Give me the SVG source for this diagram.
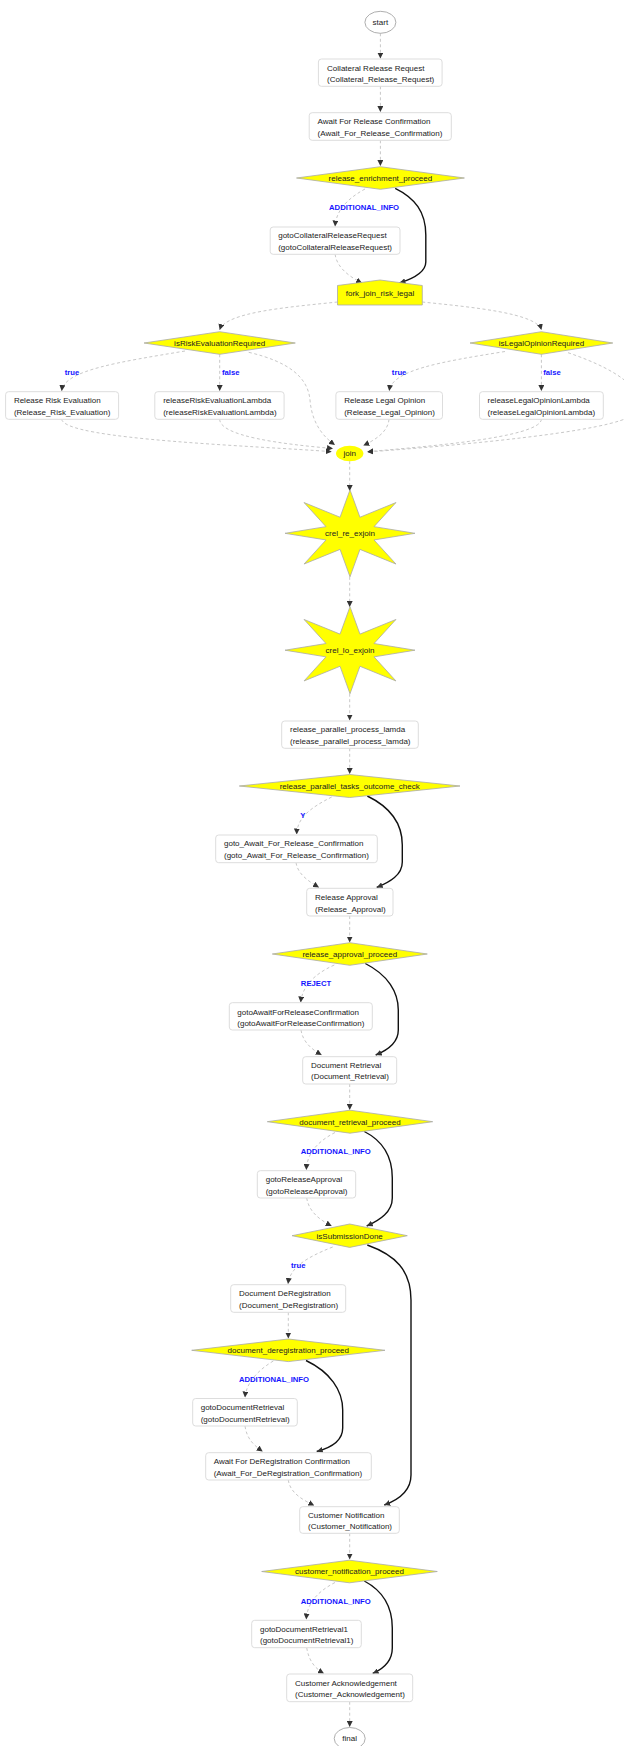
<svg xmlns="http://www.w3.org/2000/svg" width="624" height="1746" viewBox="0 0 624 1746">
<style>
text{font-family:"Liberation Sans",Arial,sans-serif;font-size:8px;fill:#222}
.c{text-anchor:middle}
.lbl{font-weight:bold;fill:#1414ff;text-anchor:middle;font-size:7.7px}
.box{fill:#fff;stroke:#ddd;stroke-width:1}
.dia{fill:#ffff00;stroke:#aaa;stroke-width:0.8}
.term{fill:#fff;stroke:#999;stroke-width:0.8}
.d{fill:none;stroke:#c8c8c8;stroke-width:1;stroke-dasharray:3,2.5;marker-end:url(#ah)}
.s{fill:none;stroke:#111;stroke-width:1.4;marker-end:url(#ah)}
</style>
<defs>
<marker id="ah" viewBox="0 0 10 10" refX="10" refY="5" markerWidth="6" markerHeight="6" markerUnits="userSpaceOnUse" orient="auto">
<path d="M0,0 L10,5 L0,10 z" fill="#333"/>
</marker>
<polygon id="star" points="0,-43.5 9.95,-16.08 45.96,-30.76 24.02,-6.66 65,0 24.02,6.66 45.96,30.76 9.95,16.08 0,43.5 -9.95,16.08 -45.96,30.76 -24.02,6.66 -65,0 -24.02,-6.66 -45.96,-30.76 -9.95,-16.08"/>
</defs>
<rect width="624" height="1746" fill="#fff"/>

<g id="connectors">
<path class="d" d="M380.4,33.3 L380.4,58.5"/>
<path class="d" d="M380.4,86.3 L380.4,112"/>
<path class="d" d="M380.4,140.3 L380.4,166"/>
<path class="d" d="M365,189 C345,200 336,212 335.1,226.5"/>
<path class="s" d="M395.2,188.3 C415,198 425.8,212 425.8,235 L425.8,262 C425.8,273 412,279 399.5,283"/>
<path class="d" d="M335.1,254.3 C337,268 350,277 362,283"/>
<path class="d" d="M337.5,302 C290,307 225,312 219.7,330"/>
<path class="d" d="M422.3,302 C470,307 537,313 541.4,330"/>
<path class="d" d="M185,351 C120,362 64,370 61.7,391"/>
<path class="d" d="M219.7,354.3 L219.7,391"/>
<path class="d" d="M505,351.5 C440,362 392,370 389.2,391"/>
<path class="d" d="M541.4,354.3 L541.4,391"/>
<path class="d" d="M248.7,352.3 C290,362 308,378 310,400 C312,425 325,438 335,445"/>
<path class="d" d="M61.7,419.3 C65,440 260,446 331.7,451.7"/>
<path class="d" d="M219.7,419.3 C220,436 280,444 333,448.5"/>
<path class="d" d="M389,419.3 C388,432 375,440 363.3,445.5"/>
<path class="d" d="M541.4,419.3 C540,438 420,447 367.3,451.7"/>
<path class="d" d="M568,352.7 C625,372 650,395 634,414 C615,432 450,446 367.3,452"/>
<path class="d" d="M349.7,461.2 L349.7,491"/>
<path class="d" d="M349.7,576.8 L349.7,607"/>
<path class="d" d="M349.7,693.7 L349.7,720.5"/>
<path class="d" d="M349.7,748.3 L349.7,774"/>
<path class="d" d="M331.7,797 C310,808 297,818 296.7,834.5"/>
<path class="s" d="M367.3,796 C392,808 402.3,825 402.3,845 L402.3,862 C402.3,875 390,882 376.7,887.5"/>
<path class="d" d="M296,862.7 C298,875 310,882 319,887.5"/>
<path class="d" d="M349.7,916 L349.7,942.5"/>
<path class="d" d="M334.3,965 C312,975 302,988 300.7,1002.5"/>
<path class="s" d="M365.3,963.5 C388,975 398.3,992 398.3,1010 L398.3,1030 C398.3,1043 388,1050 375.7,1055"/>
<path class="d" d="M301,1030 C303,1043 313,1050 321.7,1055"/>
<path class="d" d="M349.7,1084 L349.7,1110"/>
<path class="d" d="M335,1132.5 C315,1143 307,1155 306.3,1170"/>
<path class="s" d="M364.3,1131.5 C385,1142 392.3,1158 392.3,1178 L392.3,1198 C392.3,1212 380,1220 366.7,1226"/>
<path class="d" d="M306.7,1198 C309,1212 320,1220 331.7,1226"/>
<path class="d" d="M332.7,1247 C305,1258 290,1268 288,1284"/>
<path class="s" d="M367.3,1245 C395,1255 411,1270 411,1300 L411,1475 C411,1492 398,1500 384.3,1505"/>
<path class="d" d="M288.3,1312.3 L288.3,1338.5"/>
<path class="d" d="M273.3,1361 C255,1372 246,1385 245,1397.5"/>
<path class="s" d="M306,1360.5 C330,1372 342.7,1390 342.7,1410 L342.7,1428 C342.7,1442 330,1448 316.7,1451.5"/>
<path class="d" d="M245,1426 C247,1440 255,1446 262.7,1451.5"/>
<path class="d" d="M288.3,1480 C290,1493 303,1500 314.3,1505.5"/>
<path class="d" d="M349.7,1533.3 L349.7,1559.5"/>
<path class="d" d="M335,1582.5 C315,1593 307,1605 306.3,1619.5"/>
<path class="s" d="M364.3,1581 C385,1592 392.3,1608 392.3,1628 L392.3,1648 C392.3,1662 383,1669 372.7,1673.5"/>
<path class="d" d="M306.7,1647.7 C309,1662 316,1669 324,1673.5"/>
<path class="d" d="M349.7,1701.7 L349.7,1727"/>
<text class="lbl" x="364.1" y="210.2">ADDITIONAL_INFO</text>
<text class="lbl" x="72" y="374.8">true</text>
<text class="lbl" x="230.8" y="374.8">false</text>
<text class="lbl" x="399.1" y="374.8">true</text>
<text class="lbl" x="552" y="374.8">false</text>
<text class="lbl" x="302.7" y="818.1">Y</text>
<text class="lbl" x="316" y="986.1">REJECT</text>
<text class="lbl" x="335.7" y="1153.8">ADDITIONAL_INFO</text>
<text class="lbl" x="298.3" y="1267.8">true</text>
<text class="lbl" x="274" y="1382.1">ADDITIONAL_INFO</text>
<text class="lbl" x="335.7" y="1603.8">ADDITIONAL_INFO</text>
</g>

<g id="start"><ellipse class="term" cx="380.4" cy="22.3" rx="15.5" ry="11"/><text class="c" x="380.4" y="25.2">start</text></g>
<g id="Collateral_Release_Request"><rect class="box" x="318.4" y="59" width="123.7" height="27.3" rx="3"/><text x="327.1" y="70.6">Collateral Release Request</text><text x="327.1" y="82">(Collateral_Release_Request)</text></g>
<g id="Await_For_Release_Confirmation"><rect class="box" x="309.2" y="112.7" width="142.1" height="27.6" rx="3"/><text x="317.6" y="124.2">Await For Release Confirmation</text><text x="317.6" y="135.6">(Await_For_Release_Confirmation)</text></g>
<g id="release_enrichment_proceed"><polygon class="dia" points="296.5,178 380.4,166.7 464.4,178 380.4,189.3"/><text class="c" x="380.4" y="180.9">release_enrichment_proceed</text></g>
<g id="gotoCollateralReleaseRequest"><rect class="box" x="270.2" y="227" width="129.8" height="27.3" rx="3"/><text x="278.2" y="238.2">gotoCollateralReleaseRequest</text><text x="278.2" y="249.9">(gotoCollateralReleaseRequest)</text></g>
<g id="fork_join_risk_legal"><polygon class="dia" points="337.5,305 337.5,285.5 380,280 422.3,285.5 422.3,305"/><text class="c" x="380" y="296.2">fork_join_risk_legal</text></g>
<g id="isRiskEvaluationRequired"><polygon class="dia" points="144,343 219.7,331.7 295.3,343 219.7,354.3"/><text class="c" x="219.7" y="345.9">isRiskEvaluationRequired</text></g>
<g id="isLegalOpinionRequired"><polygon class="dia" points="470,343 541.4,331.7 612.8,343 541.4,354.3"/><text class="c" x="541.4" y="345.9">isLegalOpinionRequired</text></g>
<g id="Release_Risk_Evaluation"><rect class="box" x="5.6" y="391.7" width="113" height="27.6" rx="3"/><text x="13.9" y="403.2">Release Risk Evaluation</text><text x="13.9" y="414.6">(Release_Risk_Evaluation)</text></g>
<g id="releaseRiskEvaluationLambda"><rect class="box" x="154.8" y="391.7" width="129.3" height="27.6" rx="3"/><text x="163.2" y="403.2">releaseRiskEvaluationLambda</text><text x="163.2" y="414.6">(releaseRiskEvaluationLambda)</text></g>
<g id="Release_Legal_Opinion"><rect class="box" x="335.9" y="391.7" width="106.6" height="27.6" rx="3"/><text x="344.2" y="403.2">Release Legal Opinion</text><text x="344.2" y="414.6">(Release_Legal_Opinion)</text></g>
<g id="releaseLegalOpinionLambda"><rect class="box" x="479.5" y="391.7" width="123.8" height="27.6" rx="3"/><text x="487.5" y="403.2">releaseLegalOpinionLambda</text><text x="487.5" y="414.6">(releaseLegalOpinionLambda)</text></g>
<g id="join"><ellipse cx="349.7" cy="453.5" rx="13.7" ry="7.7" fill="#ffff00"/><text class="c" x="349.7" y="456.4">join</text></g>
<g id="crel_re_exjoin"><use href="#star" class="dia" transform="translate(350,533.3)"/><text class="c" x="350" y="536.2">crel_re_exjoin</text></g>
<g id="crel_lo_exjoin"><use href="#star" class="dia" transform="translate(350,650.2)"/><text class="c" x="350" y="653.1">crel_lo_exjoin</text></g>
<g id="release_parallel_process_lamda"><rect class="box" x="281.7" y="721" width="136.6" height="27.3" rx="3"/><text x="290" y="732">release_parallel_process_lamda</text><text x="290" y="743.6">(release_parallel_process_lamda)</text></g>
<g id="release_parallel_tasks_outcome_check"><polygon class="dia" points="239.3,786 349.7,774.5 460,786 349.7,797.5"/><text class="c" x="349.7" y="788.9">release_parallel_tasks_outcome_check</text></g>
<g id="goto_Await_For_Release_Confirmation"><rect class="box" x="215.7" y="835" width="161.6" height="27.7" rx="3"/><text x="224" y="846.2">goto_Await_For_Release_Confirmation</text><text x="224" y="857.9">(goto_Await_For_Release_Confirmation)</text></g>
<g id="Release_Approval"><rect class="box" x="306.7" y="888.3" width="86.3" height="27.7" rx="3"/><text x="315" y="899.9">Release Approval</text><text x="315" y="911.6">(Release_Approval)</text></g>
<g id="release_approval_proceed"><polygon class="dia" points="272.3,954 349.8,942.7 427.3,954 349.8,965.3"/><text class="c" x="349.8" y="956.9">release_approval_proceed</text></g>
<g id="gotoAwaitForReleaseConfirmation"><rect class="box" x="229.3" y="1002.7" width="143" height="27.3" rx="3"/><text x="237.3" y="1014.6">gotoAwaitForReleaseConfirmation</text><text x="237.3" y="1026.2">(gotoAwaitForReleaseConfirmation)</text></g>
<g id="Document_Retrieval"><rect class="box" x="302.7" y="1056.7" width="94" height="27.3" rx="3"/><text x="311" y="1067.9">Document Retrieval</text><text x="311" y="1079.2">(Document_Retrieval)</text></g>
<g id="document_retrieval_proceed"><polygon class="dia" points="267.3,1121.7 350,1110.2 432.7,1121.7 350,1133.2"/><text class="c" x="350" y="1124.6">document_retrieval_proceed</text></g>
<g id="gotoReleaseApproval"><rect class="box" x="257.3" y="1170.7" width="98.4" height="27.3" rx="3"/><text x="265.7" y="1181.9">gotoReleaseApproval</text><text x="265.7" y="1193.6">(gotoReleaseApproval)</text></g>
<g id="isSubmissionDone"><polygon class="dia" points="292,1235.7 349.7,1224 407.3,1235.7 349.7,1247.4"/><text class="c" x="349.7" y="1238.6">isSubmissionDone</text></g>
<g id="Document_DeRegistration"><rect class="box" x="230.7" y="1284.7" width="115" height="27.6" rx="3"/><text x="239" y="1296.2">Document DeRegistration</text><text x="239" y="1307.9">(Document_DeRegistration)</text></g>
<g id="document_deregistration_proceed"><polygon class="dia" points="191.7,1350.3 288.3,1339 385,1350.3 288.3,1361.6"/><text class="c" x="288.3" y="1353.2">document_deregistration_proceed</text></g>
<g id="gotoDocumentRetrieval"><rect class="box" x="192.7" y="1398.5" width="104.6" height="27.5" rx="3"/><text x="200.7" y="1410.2">gotoDocumentRetrieval</text><text x="200.7" y="1421.9">(gotoDocumentRetrieval)</text></g>
<g id="Await_For_DeRegistration_Confirmation"><rect class="box" x="205.7" y="1452.7" width="165.6" height="27.3" rx="3"/><text x="213.7" y="1464.2">Await For DeRegistration Confirmation</text><text x="213.7" y="1475.6">(Await_For_DeRegistration_Confirmation)</text></g>
<g id="Customer_Notification"><rect class="box" x="299.7" y="1506.7" width="99.6" height="26.6" rx="3"/><text x="308" y="1517.9">Customer Notification</text><text x="308" y="1529.2">(Customer_Notification)</text></g>
<g id="customer_notification_proceed"><polygon class="dia" points="261.7,1571.5 349.5,1560.2 437.3,1571.5 349.5,1582.8"/><text class="c" x="349.5" y="1574.4">customer_notification_proceed</text></g>
<g id="gotoDocumentRetrieval1"><rect class="box" x="251.7" y="1620.3" width="109.6" height="27.4" rx="3"/><text x="260" y="1631.9">gotoDocumentRetrieval1</text><text x="260" y="1643.2">(gotoDocumentRetrieval1)</text></g>
<g id="Customer_Acknowledgement"><rect class="box" x="286.7" y="1674" width="126" height="27.7" rx="3"/><text x="295" y="1685.6">Customer Acknowledgement</text><text x="295" y="1696.9">(Customer_Acknowledgement)</text></g>
<g id="final"><ellipse class="term" cx="349.7" cy="1738.5" rx="15.5" ry="11"/><text class="c" x="349.7" y="1741.4">final</text></g>
</svg>
